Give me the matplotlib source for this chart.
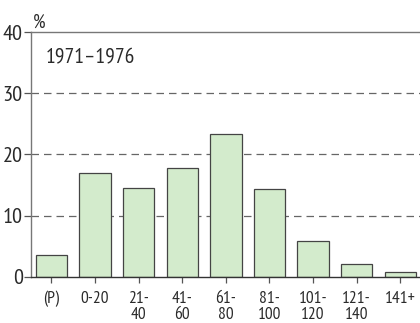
import matplotlib
matplotlib.use("Agg")
import matplotlib.pyplot as plt

categories = ["(P)", "0-20", "21-\n40", "41-\n60", "61-\n80", "81-\n100", "101-\n120", "121-\n140", "141+"]
values = [3.6, 17.0, 14.5, 17.8, 23.3, 14.4, 5.9, 2.0, 0.7]
yticks = [0, 10, 20, 30, 40]

plt.rcParams["font.family"] = ["PT Sans Narrow", "DejaVu Sans"]
fig = plt.figure(figsize=(4.2, 3.23), dpi=100)
ax = fig.add_axes([0.0738, 0.1433, 0.93, 0.757])

txt = "#2a2a2a"
for y in yticks[1:-1]:
    ax.axhline(y, color="#666666", lw=0.9, ls=(0, (6, 4)), zorder=0)

ax.bar(range(len(values)), values, width=0.72, color="#d3ebcc",
       edgecolor="#444444", linewidth=0.9, zorder=2)

ax.set_xlim(-0.47, 8.49)
ax.set_ylim(0, 40)
ax.set_yticks(yticks)
ax.set_xticks(range(len(categories)))
ax.set_xticklabels(categories, fontsize=12.5, color=txt, linespacing=1.0)
ax.tick_params(axis="y", labelsize=16, colors="#555555", labelcolor=txt, length=5, pad=1, width=0.9)
ax.tick_params(axis="x", colors="#555555", labelcolor=txt, length=4, pad=6, width=0.9)

for s in ["left", "top"]:
    ax.spines[s].set_color("#777777")
    ax.spines[s].set_linewidth(1.0)
ax.spines["bottom"].set_color("#333333")
ax.spines["bottom"].set_linewidth(1.0)
ax.spines["right"].set_visible(False)

ax.text(0.005, 1.0, "%", transform=ax.transAxes, fontsize=14, color=txt, va="bottom", ha="left")
ax.text(0.037, 0.855, "1971\u20131976", transform=ax.transAxes, fontsize=15.5, color=txt, va="bottom", ha="left")

fig.savefig("out.png", dpi=100)
